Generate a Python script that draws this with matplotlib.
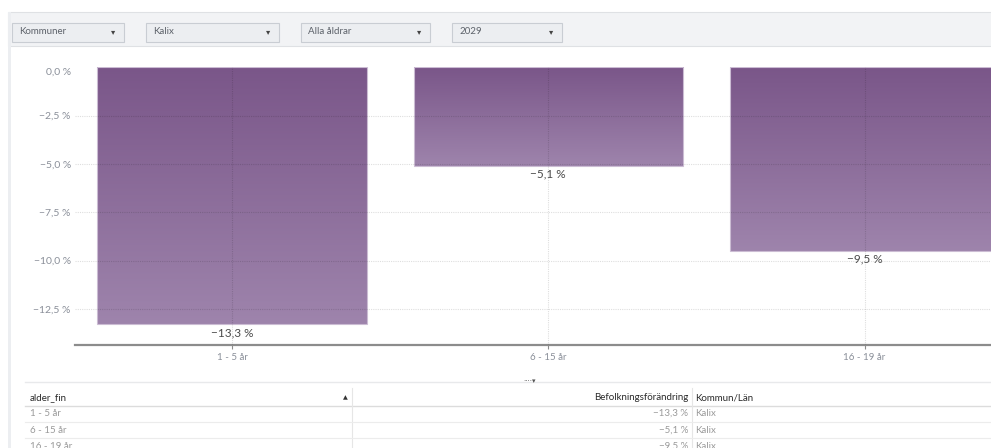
import numpy as np
import matplotlib.pyplot as plt
from matplotlib.patches import Rectangle
from matplotlib.lines import Line2D
from matplotlib.colors import LinearSegmentedColormap
from matplotlib.ticker import FuncFormatter

plt.rcParams['font.family'] = ['Lato', 'DejaVu Sans']

# data
filters = ["Kommuner", "Kalix", "Alla åldrar", "2029"]
age_groups = ["1 - 5 år", "6 - 15 år", "16 - 19 år"]
change = [-13.3, -5.1, -9.5]
kommun = ["Kalix", "Kalix", "Kalix"]
yticks = [0, -2.5, -5, -7.5, -10, -12.5]

W, H = 991, 448
fig = plt.figure(figsize=(W / 100, H / 100), dpi=100)


def fx(x):
    return x / W


def fy(y):
    return 1 - y / H


def box(x0, y0, x1, y1, **kw):
    fig.add_artist(Rectangle((fx(x0), fy(y1)), fx(x1) - fx(x0), fy(y0) - fy(y1),
                             transform=fig.transFigure, **kw))


def line(x0, y0, x1, y1, **kw):
    fig.add_artist(Line2D([fx(x0), fx(x1)], [fy(y0), fy(y1)], transform=fig.transFigure, **kw))


def pct(v):
    s = "{:.1f}".format(abs(v)).replace(".", ",") + " %"
    return ("−" + s) if v < 0 else s


# panel frame and filter bar
box(8, 12, 995, 46, facecolor='#f2f3f5', edgecolor='#dfe1e4', lw=0.8)
box(8, 12, 11, 448, facecolor='#eceef1', edgecolor='none')
dd_pos = [(12, 124), (146, 279), (301, 430), (452, 562)]
for name, (x0, x1) in zip(filters, dd_pos):
    box(x0, 23, x1, 42, facecolor='#eceef1', edgecolor='#c9cdd3', lw=0.8)
    fig.text(fx(x0 + 7), fy(32), name, fontsize=7, color='#5d626a', va='center')
    fig.text(fx(x1 - 11), fy(32), "▾", fontsize=6, color='#444', va='center', ha='center',
             family=['DejaVu Sans'])

# chart
ax = fig.add_axes([fx(75), fy(345), fx(991) - fx(75), fy(67.3) - fy(345)])
x = np.arange(len(age_groups))
bars = ax.bar(x, change, width=0.851, color='none', edgecolor='#cbbcd3', lw=0.8, zorder=2.2)
cmap = LinearSegmentedColormap.from_list("g", ['#7a5689', '#9e84ac'])
grad = np.linspace(0, 1, 256).reshape(-1, 1)
for b in bars:
    im = ax.imshow(grad, extent=[b.get_x(), b.get_x() + b.get_width(), b.get_y() + b.get_height(), b.get_y()],
                   aspect='auto', cmap=cmap, origin='upper', zorder=2, interpolation='bicubic')
    im.set_clip_path(b)

for xi, v in zip(x, change):
    ax.annotate(pct(v), (xi, v), xytext=(0, -2), textcoords='offset points',
                ha='center', va='top', fontsize=8.5, color='#4a4a4a', zorder=4)

ax.set_xlim(-0.4965, 2.40)
ax.set_ylim(-14.37, 0)
ax.set_xticks(x)
ax.set_xticklabels(age_groups)
ax.set_yticks(yticks)
ax.yaxis.set_major_formatter(FuncFormatter(lambda v, p: pct(v)))

for s in ['top', 'right', 'left']:
    ax.spines[s].set_visible(False)
ax.spines['bottom'].set_color('#8c8c8c')
ax.spines['bottom'].set_linewidth(1.6)
ax.tick_params(axis='x', length=3, color='#8c8c8c', labelcolor='#8a8f99', labelsize=7, pad=2.5)
ax.tick_params(axis='y', length=0, labelcolor='#8a8f99', labelsize=7.5, pad=3)
ax.grid(True, color='#000000', alpha=0.13, linestyle=(0, (1, 1)), lw=0.8)
ax.set_axisbelow(False)
ax.set_facecolor('none')
first = ax.yaxis.get_major_ticks()[0]
first.label1.set_va('top')
first.gridline.set_visible(False)

# table
line(25, 382, 995, 382, color='#e8e9eb', lw=1)
fig.text(fx(530), fy(381), "····▾", fontsize=5, color='#555', ha='center', va='center',
         family=['DejaVu Sans'])
fig.text(fx(30), fy(398), "alder_fin", fontsize=7, color='#2a2a2a', va='center')
fig.text(fx(345), fy(398), "▲", fontsize=4.5, color='#333', va='center', ha='center',
         family=['DejaVu Sans'])
fig.text(fx(688), fy(398), "Befolkningsförändring", fontsize=7, color='#2a2a2a', va='center', ha='right')
fig.text(fx(695), fy(398), "Kommun/Län", fontsize=7, color='#2a2a2a', va='center')
line(25, 405.7, 995, 405.7, color='#dcdcdc', lw=1)
line(352, 388, 352, 448, color='#e6e6e6', lw=0.8)
line(692, 388, 692, 448, color='#e6e6e6', lw=0.8)
row_y = [413.5, 430, 446.5]
for i, (g, v, k) in enumerate(zip(age_groups, change, kommun)):
    y = row_y[i]
    fig.text(fx(30), fy(y), g, fontsize=7, color='#9a9a9a', va='center')
    fig.text(fx(688), fy(y), pct(v), fontsize=7, color='#9a9a9a', va='center', ha='right')
    fig.text(fx(695), fy(y), k, fontsize=7, color='#9a9a9a', va='center')
    if i < 2:
        line(25, y + 8.2, 995, y + 8.2, color='#ececec', lw=0.8)

fig.savefig("out.png", dpi=100)
